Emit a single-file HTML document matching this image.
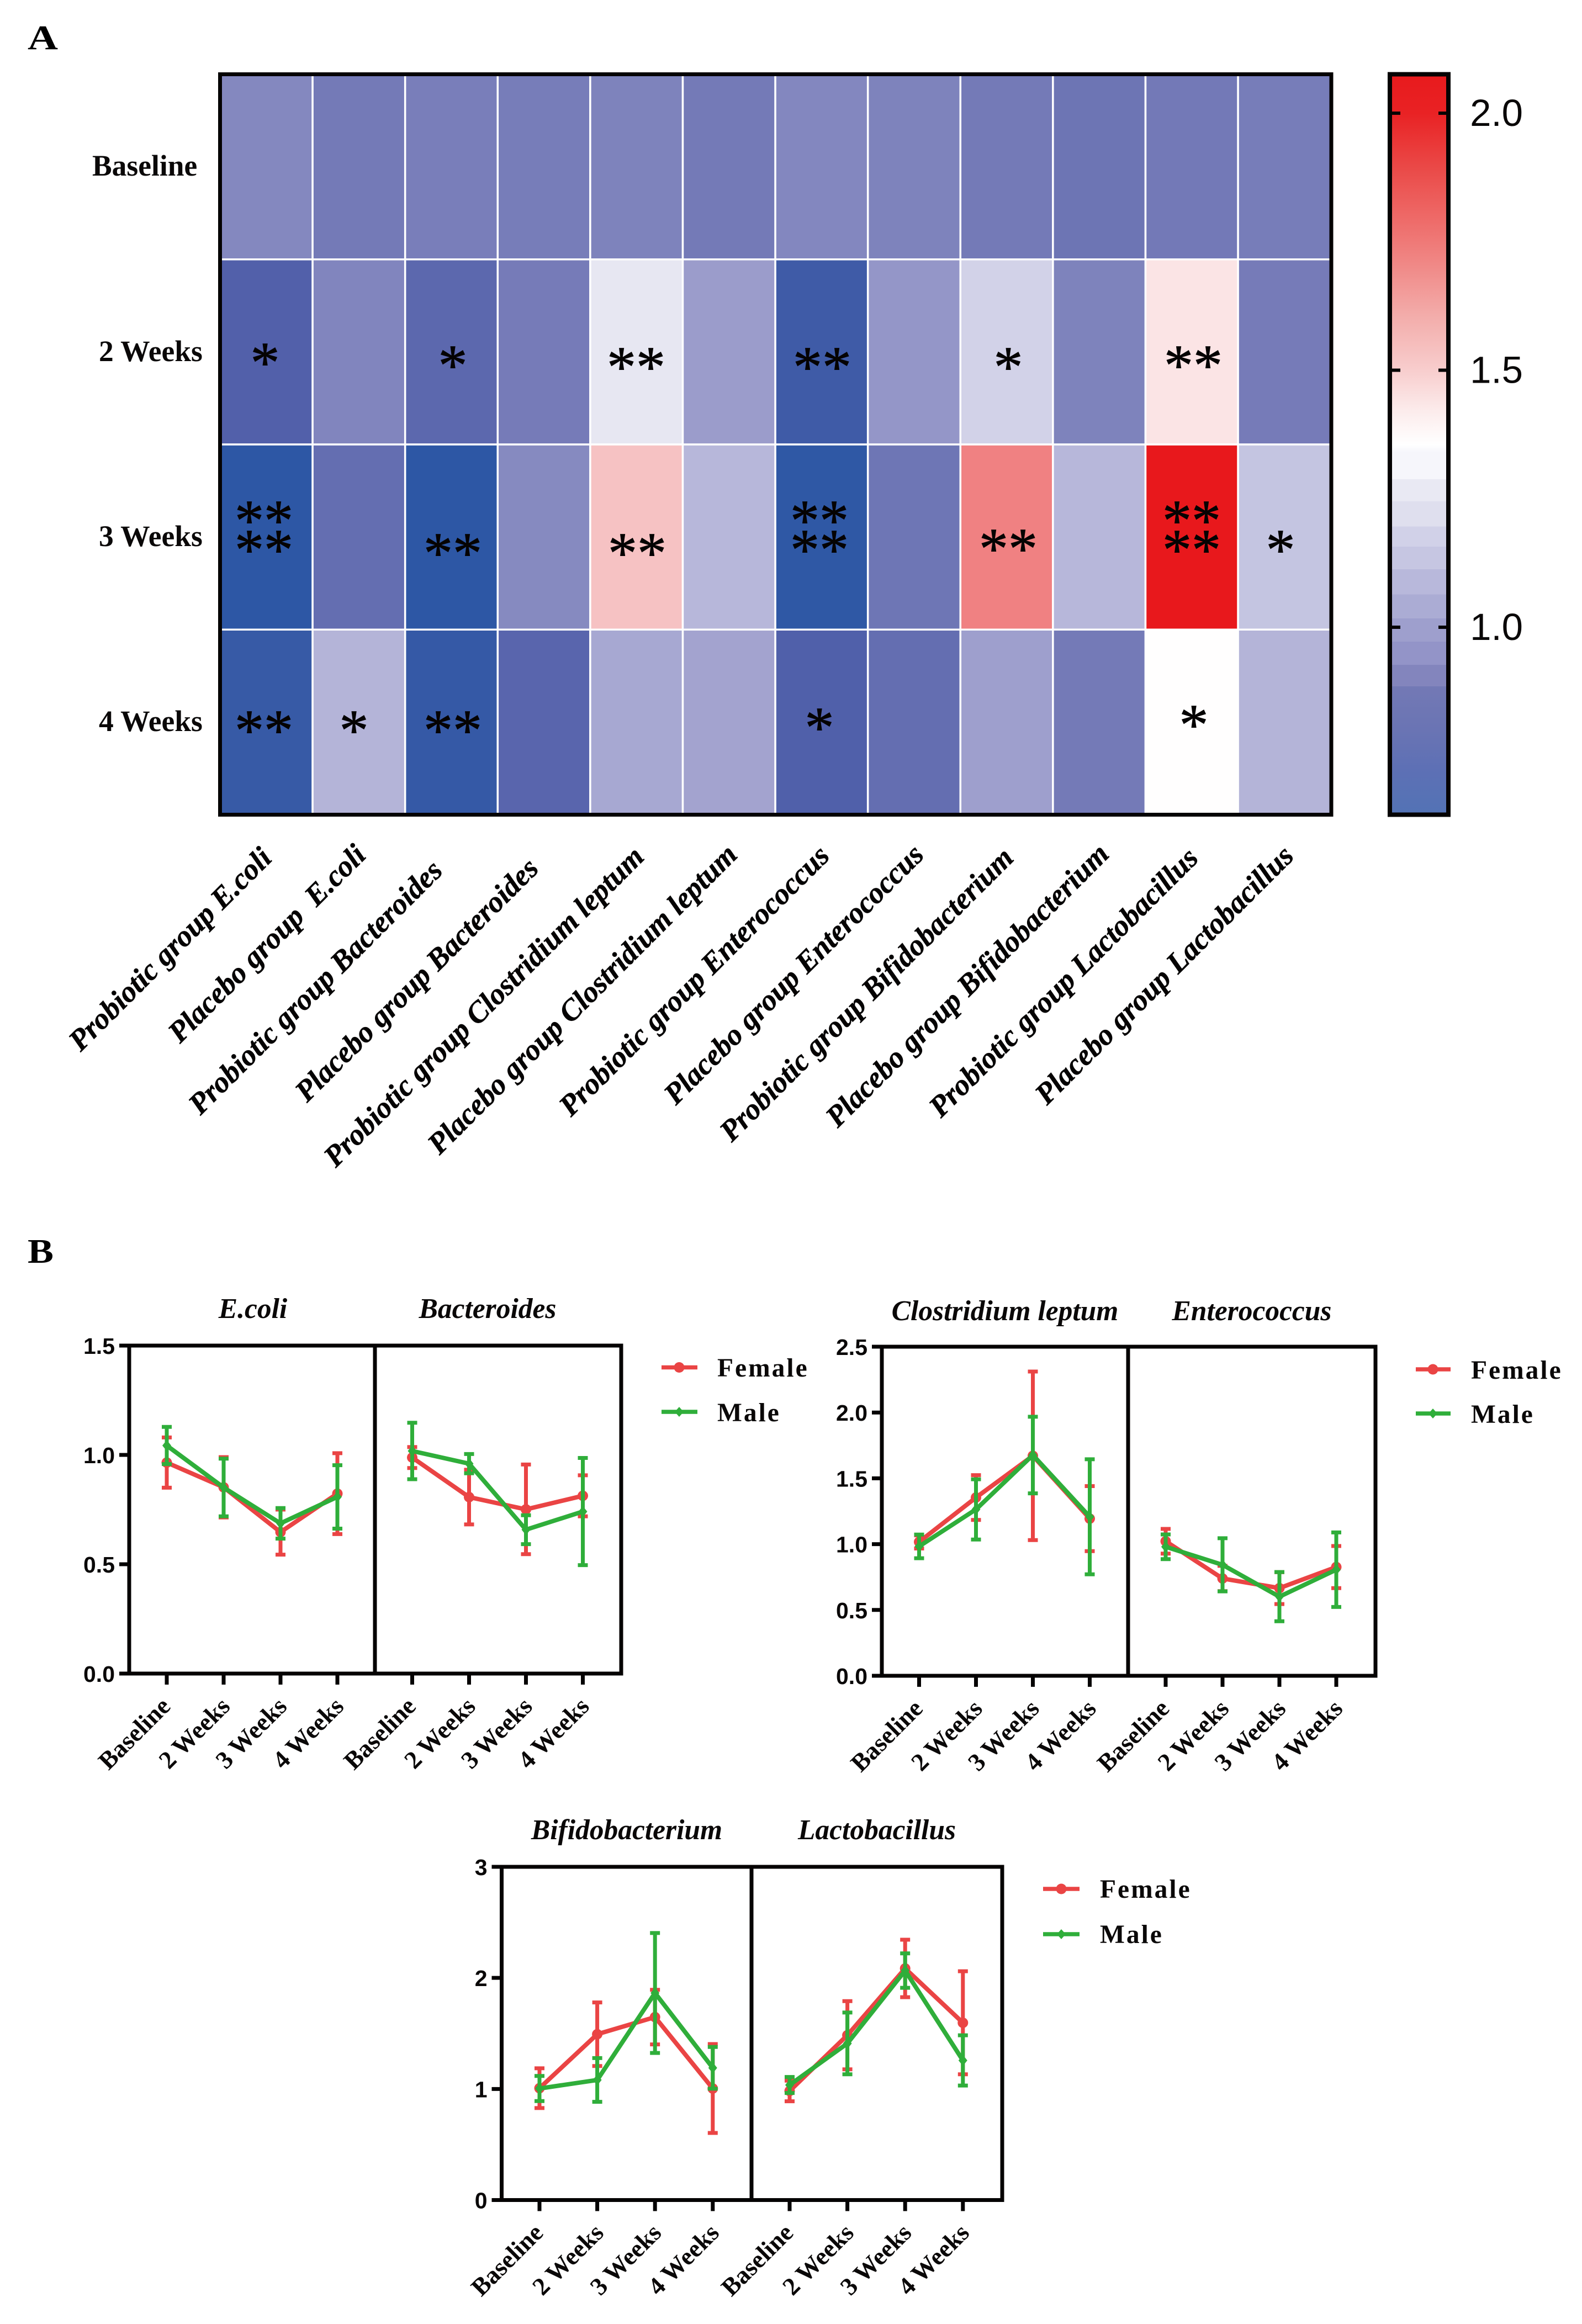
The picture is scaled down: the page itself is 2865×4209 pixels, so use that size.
<!DOCTYPE html>
<html lang="en">
<head>
<meta charset="utf-8">
<title>Probiotic heatmap and sex-stratified trend charts</title>
<style>
html,body{margin:0;padding:0;background:#fff;}
svg{display:block;}
text{white-space:pre;}
.serif-b{font-family:"Liberation Serif",serif;font-weight:bold;}
.serif-bi{font-family:"Liberation Serif",serif;font-weight:bold;font-style:italic;}
.star{font-family:"Liberation Serif",serif;font-size:106px;text-anchor:middle;fill:#050303;stroke:#050303;stroke-width:1px;}
.row-label{font-size:53.5px;fill:#0a0808;}
.col-label{font-size:54px;fill:#050303;stroke:#050303;stroke-width:0.6px;}
.facet-title{font-size:51.5px;text-anchor:middle;fill:#0a0808;}
.legend-text{font-size:47.5px;letter-spacing:3px;fill:#0a0808;}
</style>
</head>
<body>
<svg id="figure" xmlns="http://www.w3.org/2000/svg" width="2865" height="4209" viewBox="0 0 2865 4209">
<rect x="0" y="0" width="2865" height="4209" fill="#ffffff"/>

<text class="serif-b" x="50" y="89" font-size="62" textLength="55" lengthAdjust="spacingAndGlyphs">A</text>
<text class="serif-b" x="50" y="2287" font-size="62" textLength="47" lengthAdjust="spacingAndGlyphs">B</text>

<g id="heatmap-cells"></g>
<rect x="398.5" y="134.5" width="2012.5" height="1341" fill="none" stroke="#050303" stroke-width="7"/>

<text class="serif-b row-label" x="167" y="318">Baseline</text>
<text class="serif-b row-label" x="179" y="654">2 Weeks</text>
<text class="serif-b row-label" x="179" y="989">3 Weeks</text>
<text class="serif-b row-label" x="179" y="1324">4 Weeks</text>

<g>
<text class="star" x="480" y="692">*</text>
<text class="star" x="820" y="697">*</text>
<text class="star" x="1152" y="700">**</text>
<text class="star" x="1489" y="700">**</text>
<text class="star" x="1826" y="700">*</text>
<text class="star" x="2161" y="697">**</text>
<text class="star" x="478" y="978">**</text>
<text class="star" x="478" y="1031">**</text>
<text class="star" x="820" y="1037">**</text>
<text class="star" x="1154" y="1037">**</text>
<text class="star" x="1484" y="978">**</text>
<text class="star" x="1484" y="1031">**</text>
<text class="star" x="1826" y="1029">**</text>
<text class="star" x="2158" y="978">**</text>
<text class="star" x="2158" y="1031">**</text>
<text class="star" x="2319" y="1031">*</text>
<text class="star" x="478" y="1358">**</text>
<text class="star" x="641" y="1358">*</text>
<text class="star" x="820" y="1358">**</text>
<text class="star" x="1484" y="1353">*</text>
<text class="star" x="2162" y="1348">*</text>
</g>

<g>
<text class="serif-bi col-label" transform="translate(146,1906) rotate(-45)">Probiotic group E.coli</text>
<text class="serif-bi col-label" transform="translate(326,1891) rotate(-45)">Placebo group  E.coli</text>
<text class="serif-bi col-label" transform="translate(363,2021) rotate(-45)">Probiotic group Bacteroides</text>
<text class="serif-bi col-label" transform="translate(556,1998) rotate(-45)">Placebo group Bacteroides</text>
<text class="serif-bi col-label" transform="translate(608,2116) rotate(-45)">Probiotic group Clostridium leptum</text>
<text class="serif-bi col-label" transform="translate(796,2093) rotate(-45)">Placebo group Clostridium leptum</text>
<text class="serif-bi col-label" transform="translate(1034,2024) rotate(-45)">Probiotic group Enterococcus</text>
<text class="serif-bi col-label" transform="translate(1224,2003) rotate(-45)">Placebo group Enterococcus</text>
<text class="serif-bi col-label" transform="translate(1325,2070) rotate(-45)">Probiotic group Bifidobacterium</text>
<text class="serif-bi col-label" transform="translate(1517,2044) rotate(-45)">Placebo group Bifidobacterium</text>
<text class="serif-bi col-label" transform="translate(1704,2026) rotate(-45)">Probiotic group Lactobacillus</text>
<text class="serif-bi col-label" transform="translate(1896,2003) rotate(-45)">Placebo group Lactobacillus</text>
</g>

<defs><linearGradient id="colorbar-gradient" x1="0" y1="0" x2="0" y2="1"></linearGradient></defs>
<g id="colorbar"></g>

<text class="serif-bi facet-title" x="458" y="2387">E.coli</text>
<text class="serif-bi facet-title" x="883" y="2387">Bacteroides</text>
<text class="serif-bi facet-title" x="1820" y="2391">Clostridium leptum</text>
<text class="serif-bi facet-title" x="2267" y="2391">Enterococcus</text>
<text class="serif-bi facet-title" x="1135" y="3331">Bifidobacterium</text>
<text class="serif-bi facet-title" x="1588" y="3331">Lactobacillus</text>

<g>
<line x1="1198" y1="2476.5" x2="1263" y2="2476.5" stroke="#ea4444" stroke-width="7.5"/>
<circle cx="1230" cy="2476.5" r="9.5" fill="#ea4444"/>
<text class="serif-b legend-text" x="1299" y="2493">Female</text>
<line x1="1198" y1="2557" x2="1263" y2="2557" stroke="#2fae3a" stroke-width="7.5"/>
<path d="M1230 2548l8 9l-8 9l-8 -9z" fill="#2fae3a"/>
<text class="serif-b legend-text" x="1299" y="2574">Male</text>
</g>
<g>
<line x1="2564" y1="2480" x2="2627" y2="2480" stroke="#ea4444" stroke-width="7.5"/>
<circle cx="2595" cy="2480" r="9.5" fill="#ea4444"/>
<text class="serif-b legend-text" x="2664" y="2497">Female</text>
<line x1="2564" y1="2560" x2="2627" y2="2560" stroke="#2fae3a" stroke-width="7.5"/>
<path d="M2595 2551l8 9l-8 9l-8 -9z" fill="#2fae3a"/>
<text class="serif-b legend-text" x="2664" y="2577">Male</text>
</g>
<g>
<line x1="1889" y1="3421" x2="1955" y2="3421" stroke="#ea4444" stroke-width="7.5"/>
<circle cx="1922" cy="3421" r="9.5" fill="#ea4444"/>
<text class="serif-b legend-text" x="1992" y="3437">Female</text>
<line x1="1889" y1="3503" x2="1955" y2="3503" stroke="#2fae3a" stroke-width="7.5"/>
<path d="M1922 3494l8 9l-8 9l-8 -9z" fill="#2fae3a"/>
<text class="serif-b legend-text" x="1992" y="3519">Male</text>
</g>

<g id="charts"></g>
</svg>

<script>
// ---------- Heatmap data (fold change, rows top to bottom, columns left to right) ----------
const heatmapRowNames = ['baseline', '2-weeks', '3-weeks', '4-weeks'];
const heatmapColumnNames = ['probiotic-ecoli', 'placebo-ecoli', 'probiotic-bacteroides', 'placebo-bacteroides', 'probiotic-clostridium', 'placebo-clostridium', 'probiotic-enterococcus', 'placebo-enterococcus', 'probiotic-bifidobacterium', 'placebo-bifidobacterium', 'probiotic-lactobacillus', 'placebo-lactobacillus'];
const baselineValues = [0.92, 0.87, 0.885, 0.88, 0.90, 0.87, 0.915, 0.90, 0.87, 0.84, 0.865, 0.88];
const week2Values = [0.72, 0.91, 0.764, 0.875, 1.27, 0.99, 0.674, 0.97, 1.18, 0.90, 1.44, 0.875];
const week3Values = [0.63, 0.80, 0.63, 0.925, 1.53, 1.08, 0.635, 0.845, 1.71, 1.08, 2.08, 1.125];
const week4Values = [0.655, 1.07, 0.65, 0.75, 1.03, 1.015, 0.715, 0.80, 1.0, 0.87, 1.372, 1.07];

// Heatmap colour scale
const cellScaleValues = [0.63, 0.72, 0.87, 1.0, 1.13, 1.27, 1.37, 1.53, 1.71, 2.08];
const cellScaleColors = ['#2d57a5', '#5260aa', '#747ab7', '#9e9fcd', '#c6c6e2', '#e7e7f2', '#ffffff', '#f6c2c3', '#f08182', '#e8181c'];

// Colorbar legend: stops from top to bottom
const colorbarTicks = [2.0, 1.5, 1.0];
const colorbarTickLabels = ['2.0', '1.5', '1.0'];
const colorbarStopValues = [2.078, 2.0, 1.892, 1.795, 1.70, 1.604, 1.5, 1.42, 1.355, 1.34, 1.288, 1.288, 1.245, 1.245, 1.196, 1.196, 1.157, 1.157, 1.113, 1.113, 1.064, 1.064, 1.017, 1.017, 0.972, 0.972, 0.927, 0.927, 0.885, 0.885, 0.80, 0.722, 0.634];
const colorbarStopColors = ['#e81a1d', '#e92224', '#ea4a48', '#ee6a68', '#f08a88', '#f3adab', '#f8cdcd', '#fcecec', '#ffffff', '#f6f6fb', '#f6f6fb', '#e9e9f3', '#e9e9f3', '#dfdfee', '#dfdfee', '#d1d1e8', '#d1d1e8', '#c6c6e2', '#c6c6e2', '#b8b8db', '#b8b8db', '#abacd4', '#abacd4', '#9e9fcd', '#9e9fcd', '#9394c8', '#9394c8', '#8385bd', '#8385bd', '#7379b5', '#6a74b4', '#5d70b5', '#5373b5'];

// ---------- Line chart data (mean and error per time point) ----------
const weekLabels = ['Baseline', '2 Weeks', '3 Weeks', '4 Weeks'];

const ticksChart1 = [0, 0.5, 1.0, 1.5];
const tickLabelsChart1 = ['0.0', '0.5', '1.0', '1.5'];
const ticksChart2 = [0, 0.5, 1.0, 1.5, 2.0, 2.5];
const tickLabelsChart2 = ['0.0', '0.5', '1.0', '1.5', '2.0', '2.5'];
const ticksChart3 = [0, 1, 2, 3];
const tickLabelsChart3 = ['0', '1', '2', '3'];

const ecoliFemaleMean = [0.965, 0.852, 0.647, 0.823];
const ecoliFemaleErr = [0.115, 0.138, 0.103, 0.185];
const ecoliMaleMean = [1.043, 0.851, 0.687, 0.808];
const ecoliMaleErr = [0.085, 0.132, 0.070, 0.145];

const bacteroidesFemaleMean = [0.988, 0.807, 0.751, 0.813];
const bacteroidesFemaleErr = [0.048, 0.125, 0.205, 0.094];
const bacteroidesMaleMean = [1.018, 0.960, 0.658, 0.741];
const bacteroidesMaleErr = [0.129, 0.044, 0.066, 0.245];

const clostridiumFemaleMean = [1.017, 1.354, 1.671, 1.194];
const clostridiumFemaleErr = [0.050, 0.170, 0.640, 0.247];
const clostridiumMaleMean = [0.983, 1.264, 1.677, 1.208];
const clostridiumMaleErr = [0.090, 0.229, 0.291, 0.437];

const enterococcusFemaleMean = [1.022, 0.739, 0.666, 0.826];
const enterococcusFemaleErr = [0.094, 0.096, 0.121, 0.160];
const enterococcusMaleMean = [0.980, 0.843, 0.601, 0.806];
const enterococcusMaleErr = [0.094, 0.202, 0.187, 0.283];

const bifidobacteriumFemaleMean = [1.007, 1.493, 1.647, 1.004];
const bifidobacteriumFemaleErr = [0.179, 0.286, 0.246, 0.400];
const bifidobacteriumMaleMean = [1.004, 1.081, 1.864, 1.190];
const bifidobacteriumMaleErr = [0.113, 0.197, 0.540, 0.188];

const lactobacillusFemaleMean = [0.982, 1.484, 2.085, 1.596];
const lactobacillusFemaleErr = [0.093, 0.307, 0.259, 0.464];
const lactobacillusMaleMean = [1.036, 1.410, 2.066, 1.257];
const lactobacillusMaleErr = [0.072, 0.278, 0.155, 0.226];

// ---------- Helpers ----------
const SVG_NS = 'http://www.w3.org/2000/svg';
function make(tag, attrs, parent) {
  const el = document.createElementNS(SVG_NS, tag);
  Object.keys(attrs).forEach(function (k) { el.setAttribute(k, attrs[k]); });
  parent.appendChild(el);
  return el;
}
function hexToRgb(h) {
  return [parseInt(h.slice(1, 3), 16), parseInt(h.slice(3, 5), 16), parseInt(h.slice(5, 7), 16)];
}
function cellColor(v) {
  const vs = cellScaleValues, cs = cellScaleColors;
  if (v <= vs[0]) return cs[0];
  if (v >= vs[vs.length - 1]) return cs[cs.length - 1];
  for (let i = 1; i < vs.length; i++) {
    if (v <= vs[i]) {
      const t = (v - vs[i - 1]) / (vs[i] - vs[i - 1]);
      const a = hexToRgb(cs[i - 1]), b = hexToRgb(cs[i]);
      return 'rgb(' + a.map(function (c, j) { return Math.round(c + (b[j] - c) * t); }).join(',') + ')';
    }
  }
  return cs[cs.length - 1];
}

// ---------- Heatmap ----------
(function drawHeatmap() {
  const group = document.getElementById('heatmap-cells');
  const rows = [baselineValues, week2Values, week3Values, week4Values];
  const x0 = 398.5, y0 = 134.5, cw = 167.6, ch = 335.25;
  rows.forEach(function (row, r) {
    row.forEach(function (value, c) {
      const cell = make('rect', { x: x0 + c * cw, y: y0 + r * ch, width: cw, height: ch, fill: cellColor(value), stroke: '#ffffff', 'stroke-width': 3.5 }, group);
      
      
    });
  });
})();

// ---------- Colorbar ----------
(function drawColorbar() {
  const group = document.getElementById('colorbar');
  const grad = document.getElementById('colorbar-gradient');
  const barTop = 134.5, barBottom = 1475.5;
  const y = function (v) { return 1136 - (v - 1.0) * 931; };
  colorbarStopValues.forEach(function (v, i) {
    const offset = (y(v) - barTop) / (barBottom - barTop);
    make('stop', { offset: Math.max(0, Math.min(1, offset)), 'stop-color': colorbarStopColors[i] }, grad);
  });
  const bar = make('rect', { x: 2517, y: barTop, width: 106, height: barBottom - barTop, fill: 'url(#colorbar-gradient)', stroke: '#050303', 'stroke-width': 8 }, group);
  
  
  colorbarTicks.forEach(function (v, i) {
    const left = make('line', { x1: 2521, x2: 2536, y1: y(v), y2: y(v), stroke: '#050303', 'stroke-width': 6 }, group);
    
    
    const right = make('line', { x1: 2605, x2: 2619, y1: y(v), y2: y(v), stroke: '#050303', 'stroke-width': 6 }, group);
    
    
    const label = make('text', { x: 2758, y: y(v) + 23, 'text-anchor': 'end', 'font-family': '"Liberation Sans", sans-serif', 'font-size': 69, fill: '#0a0808' }, group);
    label.textContent = colorbarTickLabels[i];
    
    
  });
})();

// ---------- Line charts ----------
const RED = '#ea4444';
const GREEN = '#2fae3a';

function drawSeries(group, name, mean, err, color, isCircle, xAt, yAt) {
  const g = make('g', {}, group);
  
  
  mean.forEach(function (m, i) {
    const x = xAt(i);
    const stem = make('line', { x1: x, x2: x, y1: yAt(m + err[i]), y2: yAt(m - err[i]), stroke: color, 'stroke-width': 7 }, g);
    
    
    const capTop = make('line', { x1: x - 9, x2: x + 9, y1: yAt(m + err[i]), y2: yAt(m + err[i]), stroke: color, 'stroke-width': 7 }, g);
    
    
    const capBottom = make('line', { x1: x - 9, x2: x + 9, y1: yAt(m - err[i]), y2: yAt(m - err[i]), stroke: color, 'stroke-width': 7 }, g);
    
    
  });
  const line = make('polyline', { points: mean.map(function (m, i) { return xAt(i) + ',' + yAt(m); }).join(' '), fill: 'none', stroke: color, 'stroke-width': 8, 'stroke-linejoin': 'miter' }, g);
  
  
  mean.forEach(function (m, i) {
    const x = xAt(i), y = yAt(m);
    let point;
    if (isCircle) {
      point = make('circle', { cx: x, cy: y, r: 9.5, fill: color }, g);
    } else {
      point = make('path', { d: 'M' + x + ' ' + (y - 10) + 'l8 10l-8 10l-8 -10z', fill: color }, g);
    }
    
    
  });
}

function drawFacetAxis(group, name, firstX, stepX, axisY) {
  weekLabels.forEach(function (label, i) {
    const x = firstX + i * stepX;
    const tick = make('line', { x1: x, x2: x, y1: axisY, y2: axisY + 20, stroke: '#050303', 'stroke-width': 7 }, group);
    
    
    const dx = i === 0 ? 9 : 14;
    const text = make('text', { transform: 'translate(' + (x + dx) + ',' + (axisY + 62) + ') rotate(-45)', 'text-anchor': 'end', 'font-family': '"Liberation Serif", serif', 'font-weight': 'bold', 'font-size': 45.5, fill: '#0a0808' }, group);
    text.textContent = label;
    
    
  });
}

function drawChart(chartName, box, ticks, tickLabels, yMax, facets) {
  const root = document.getElementById('charts');
  const g = make('g', {}, root);
  
  
  const yAt = function (v) { return box.bottom - (v / yMax) * (box.bottom - box.top); };

  ticks.forEach(function (t, i) {
    const tick = make('line', { x1: box.left - 18, x2: box.left, y1: yAt(t), y2: yAt(t), stroke: '#050303', 'stroke-width': 7 }, g);
    
    
    const label = make('text', { x: box.left - 26, y: yAt(t) + 15, 'text-anchor': 'end', 'font-family': '"Liberation Sans", sans-serif', 'font-weight': 'bold', 'font-size': 41, fill: '#0a0808' }, g);
    label.textContent = tickLabels[i];
    
    
  });

  facets.forEach(function (f) {
    const xAt = function (i) { return f.firstX + i * f.stepX; };
    drawFacetAxis(g, f.name, f.firstX, f.stepX, box.bottom);
    drawSeries(g, f.name + '-female', f.femaleMean, f.femaleErr, RED, true, xAt, yAt);
    drawSeries(g, f.name + '-male', f.maleMean, f.maleErr, GREEN, false, xAt, yAt);
  });

  const frame = make('rect', { x: box.left, y: box.top, width: box.right - box.left, height: box.bottom - box.top, fill: 'none', stroke: '#050303', 'stroke-width': 7 }, g);
  
  
  const divider = make('line', { x1: box.divider, x2: box.divider, y1: box.top, y2: box.bottom, stroke: '#050303', 'stroke-width': 7 }, g);
  
  
}

drawChart('chart-ecoli-bacteroides', { left: 234, right: 1125, top: 2437, bottom: 3031, divider: 679 }, ticksChart1, tickLabelsChart1, 1.5, [
  { name: 'ecoli', firstX: 302, stepX: 103, femaleMean: ecoliFemaleMean, femaleErr: ecoliFemaleErr, maleMean: ecoliMaleMean, maleErr: ecoliMaleErr },
  { name: 'bacteroides', firstX: 746.5, stepX: 103, femaleMean: bacteroidesFemaleMean, femaleErr: bacteroidesFemaleErr, maleMean: bacteroidesMaleMean, maleErr: bacteroidesMaleErr }
]);
drawChart('chart-clostridium-enterococcus', { left: 1597, right: 2491, top: 2439, bottom: 3035, divider: 2043 }, ticksChart2, tickLabelsChart2, 2.5, [
  { name: 'clostridium', firstX: 1664.5, stepX: 103, femaleMean: clostridiumFemaleMean, femaleErr: clostridiumFemaleErr, maleMean: clostridiumMaleMean, maleErr: clostridiumMaleErr },
  { name: 'enterococcus', firstX: 2111, stepX: 103, femaleMean: enterococcusFemaleMean, femaleErr: enterococcusFemaleErr, maleMean: enterococcusMaleMean, maleErr: enterococcusMaleErr }
]);
drawChart('chart-bifidobacterium-lactobacillus', { left: 908.5, right: 1815, top: 3381, bottom: 3984.5, divider: 1361 }, ticksChart3, tickLabelsChart3, 3, [
  { name: 'bifidobacterium', firstX: 977, stepX: 104.6, femaleMean: bifidobacteriumFemaleMean, femaleErr: bifidobacteriumFemaleErr, maleMean: bifidobacteriumMaleMean, maleErr: bifidobacteriumMaleErr },
  { name: 'lactobacillus', firstX: 1430, stepX: 104.6, femaleMean: lactobacillusFemaleMean, femaleErr: lactobacillusFemaleErr, maleMean: lactobacillusMaleMean, maleErr: lactobacillusMaleErr }
]);
</script>
</body>
</html>
